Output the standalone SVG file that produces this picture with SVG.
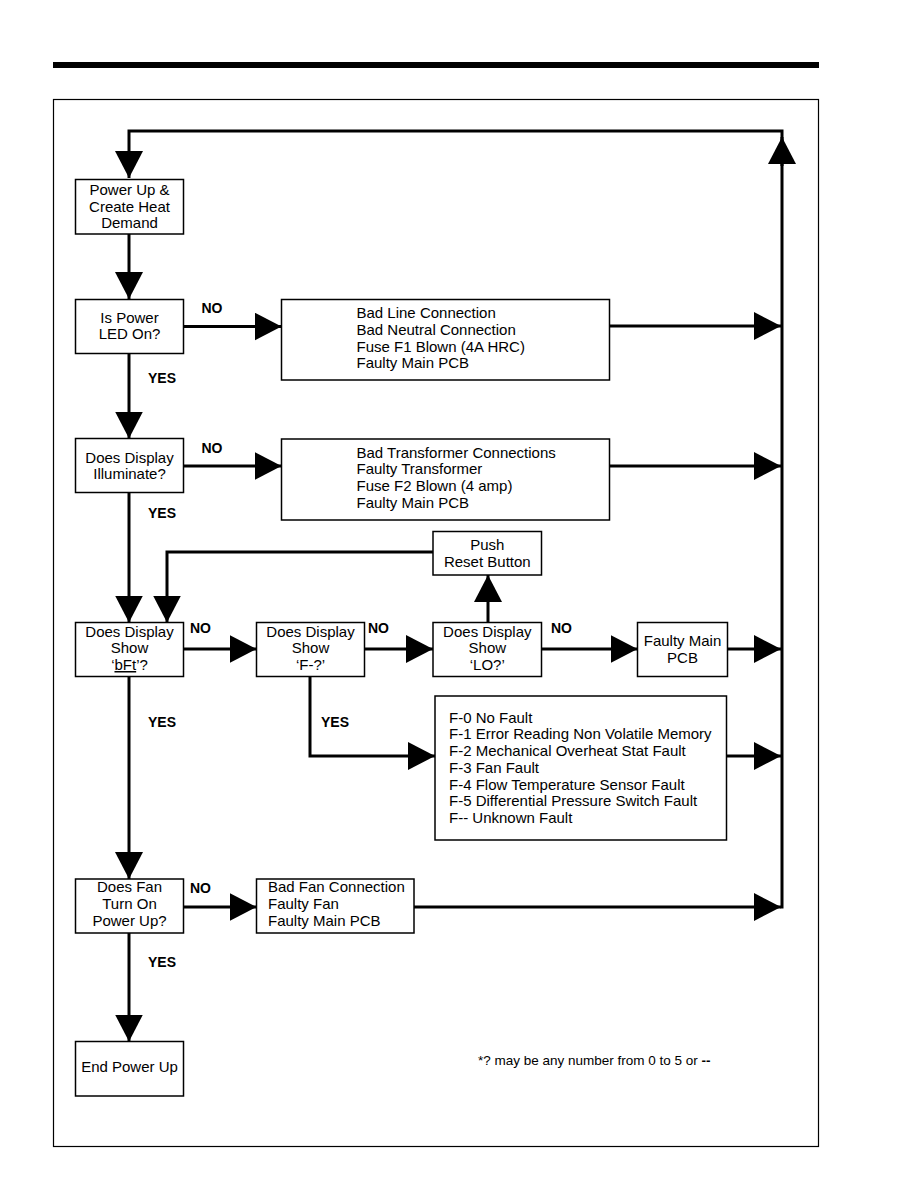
<svg xmlns="http://www.w3.org/2000/svg" width="918" height="1188" viewBox="0 0 918 1188">
<style>
.box{fill:#fff;stroke:#000;stroke-width:1.5}
.t{font-family:"Liberation Sans",Arial,sans-serif;font-size:15px;fill:#000}
.c{text-anchor:middle}
.lbl{font-family:"Liberation Sans",Arial,sans-serif;font-size:14px;font-weight:bold;fill:#000}
.ln{fill:none;stroke:#000;stroke-width:3}
.arr{marker-end:url(#ah)}
</style>
<defs>
<marker id="ah" markerUnits="userSpaceOnUse" markerWidth="28" markerHeight="28" refX="27" refY="14" orient="auto" viewBox="0 0 28 28">
<path d="M0,0 L27,14 L0,28 Z" fill="#000"/>
</marker>
</defs>
<rect x="53" y="62" width="766" height="6" fill="#000"/>
<rect x="53.5" y="99.5" width="765" height="1047" fill="none" stroke="#000" stroke-width="1.2"/>

<g id="connectors">
<path class="ln arr" d="M782,908.5 L782,131 L129,131 L129,178"/>
<path class="ln arr" d="M782,166 L782,137"/>
<path class="ln arr" d="M129,234 L129,299"/>
<path class="ln arr" d="M183,326.5 L281.5,326.5"/>
<path class="ln arr" d="M609,326 L781,326"/>
<path class="ln arr" d="M129,353 L129,438.5"/>
<path class="ln arr" d="M183,466 L281.5,466"/>
<path class="ln arr" d="M609,466 L781,466"/>
<path class="ln arr" d="M129,492.5 L129,622.5"/>
<path class="ln arr" d="M433,552 L167,552 L167,622.5"/>
<path class="ln arr" d="M183,649 L256.5,649"/>
<path class="ln arr" d="M364,649 L433,649"/>
<path class="ln arr" d="M488,622.5 L488,575"/>
<path class="ln arr" d="M541.5,649 L637.5,649"/>
<path class="ln arr" d="M727,649 L781,649"/>
<path class="ln arr" d="M310,676 L310,756 L435,756"/>
<path class="ln arr" d="M726.5,756 L781,756"/>
<path class="ln arr" d="M129,676 L129,879"/>
<path class="ln arr" d="M183,907 L256.5,907"/>
<path class="ln arr" d="M414,907 L781,907"/>
<path class="ln arr" d="M129,932.5 L129,1041.5"/>
<text class="lbl" x="201.5" y="313">NO</text>
<text class="lbl" x="148" y="383">YES</text>
<text class="lbl" x="201.5" y="453">NO</text>
<text class="lbl" x="148" y="518">YES</text>
<text class="lbl" x="190" y="633">NO</text>
<text class="lbl" x="368" y="633">NO</text>
<text class="lbl" x="551" y="633">NO</text>
<text class="lbl" x="148" y="727">YES</text>
<text class="lbl" x="321" y="727">YES</text>
<text class="lbl" x="190" y="893">NO</text>
<text class="lbl" x="148" y="967">YES</text>
</g>

<g id="n-powerup">
<rect class="box" x="75.5" y="179.5" width="108" height="54.5"/>
<text class="t c" x="129.5" y="195">Power Up &amp;</text>
<text class="t c" x="129.5" y="211.7">Create Heat</text>
<text class="t c" x="129.5" y="228.4">Demand</text>
</g>
<g id="n-powerled">
<rect class="box" x="75.5" y="299.5" width="108" height="54"/>
<text class="t c" x="129.5" y="322.7">Is Power</text>
<text class="t c" x="129.5" y="339.4">LED On?</text>
</g>
<g id="n-badline">
<rect class="box" x="281.5" y="299.5" width="328" height="80.5"/>
<text class="t" x="356.5" y="318.3">Bad Line Connection</text>
<text class="t" x="356.5" y="335">Bad Neutral Connection</text>
<text class="t" x="356.5" y="351.7">Fuse F1 Blown (4A HRC)</text>
<text class="t" x="356.5" y="368.4">Faulty Main PCB</text>
</g>
<g id="n-illuminate">
<rect class="box" x="75.5" y="438.5" width="108" height="54"/>
<text class="t c" x="129.5" y="462.7">Does Display</text>
<text class="t c" x="129.5" y="479.4">Illuminate?</text>
</g>
<g id="n-badtransformer">
<rect class="box" x="281.5" y="439" width="328" height="81"/>
<text class="t" x="356.5" y="457.7">Bad Transformer Connections</text>
<text class="t" x="356.5" y="474.4">Faulty Transformer</text>
<text class="t" x="356.5" y="491.1">Fuse F2 Blown (4 amp)</text>
<text class="t" x="356.5" y="507.8">Faulty Main PCB</text>
</g>
<g id="n-reset">
<rect class="box" x="433" y="531.5" width="108.5" height="43.5"/>
<text class="t c" x="487.3" y="550">Push</text>
<text class="t c" x="487.3" y="566.5">Reset Button</text>
</g>
<g id="n-bft">
<rect class="box" x="75.5" y="622.5" width="108" height="54"/>
<text class="t c" x="129.5" y="637">Does Display</text>
<text class="t c" x="129.5" y="653.2">Show</text>
<text class="t c" x="129.5" y="670">‘<tspan text-decoration="underline">bFt</tspan>’?</text>
</g>
<g id="n-f">
<rect class="box" x="256.5" y="622.5" width="108" height="54"/>
<text class="t c" x="310.5" y="637">Does Display</text>
<text class="t c" x="310.5" y="653.2">Show</text>
<text class="t c" x="310.5" y="670">‘F-?’</text>
</g>
<g id="n-lo">
<rect class="box" x="433" y="622.5" width="108.5" height="54"/>
<text class="t c" x="487.3" y="637">Does Display</text>
<text class="t c" x="487.3" y="653.2">Show</text>
<text class="t c" x="487.3" y="670">‘LO?’</text>
</g>
<g id="n-faultymain">
<rect class="box" x="637.5" y="622.5" width="90" height="54"/>
<text class="t c" x="682.5" y="646">Faulty Main</text>
<text class="t c" x="682.5" y="662.7">PCB</text>
</g>
<g id="n-flist">
<rect class="box" x="435" y="696" width="291.5" height="144"/>
<text class="t" x="449" y="722.7">F-0 No Fault</text>
<text class="t" x="449" y="739.4">F-1 Error Reading Non Volatile Memory</text>
<text class="t" x="449" y="756.1">F-2 Mechanical Overheat Stat Fault</text>
<text class="t" x="449" y="772.8">F-3 Fan Fault</text>
<text class="t" x="449" y="789.5">F-4 Flow Temperature Sensor Fault</text>
<text class="t" x="449" y="806.2">F-5 Differential Pressure Switch Fault</text>
<text class="t" x="449" y="822.9">F-- Unknown Fault</text>
</g>
<g id="n-fan">
<rect class="box" x="75.5" y="879" width="108" height="54"/>
<text class="t c" x="129.5" y="892.3">Does Fan</text>
<text class="t c" x="129.5" y="909">Turn On</text>
<text class="t c" x="129.5" y="925.7">Power Up?</text>
</g>
<g id="n-badfan">
<rect class="box" x="256.5" y="879" width="157.5" height="54"/>
<text class="t" x="268" y="892.3">Bad Fan Connection</text>
<text class="t" x="268" y="909">Faulty Fan</text>
<text class="t" x="268" y="925.7">Faulty Main PCB</text>
</g>
<g id="n-end">
<rect class="box" x="75.5" y="1041.5" width="108" height="54.5"/>
<text class="t c" x="129.5" y="1072.3">End Power Up</text>
</g>
<text style="font-family:'Liberation Sans',Arial,sans-serif;font-size:13.5px" x="478" y="1065">*? may be any number from 0 to 5 or <tspan font-weight="bold">--</tspan></text>
</svg>
